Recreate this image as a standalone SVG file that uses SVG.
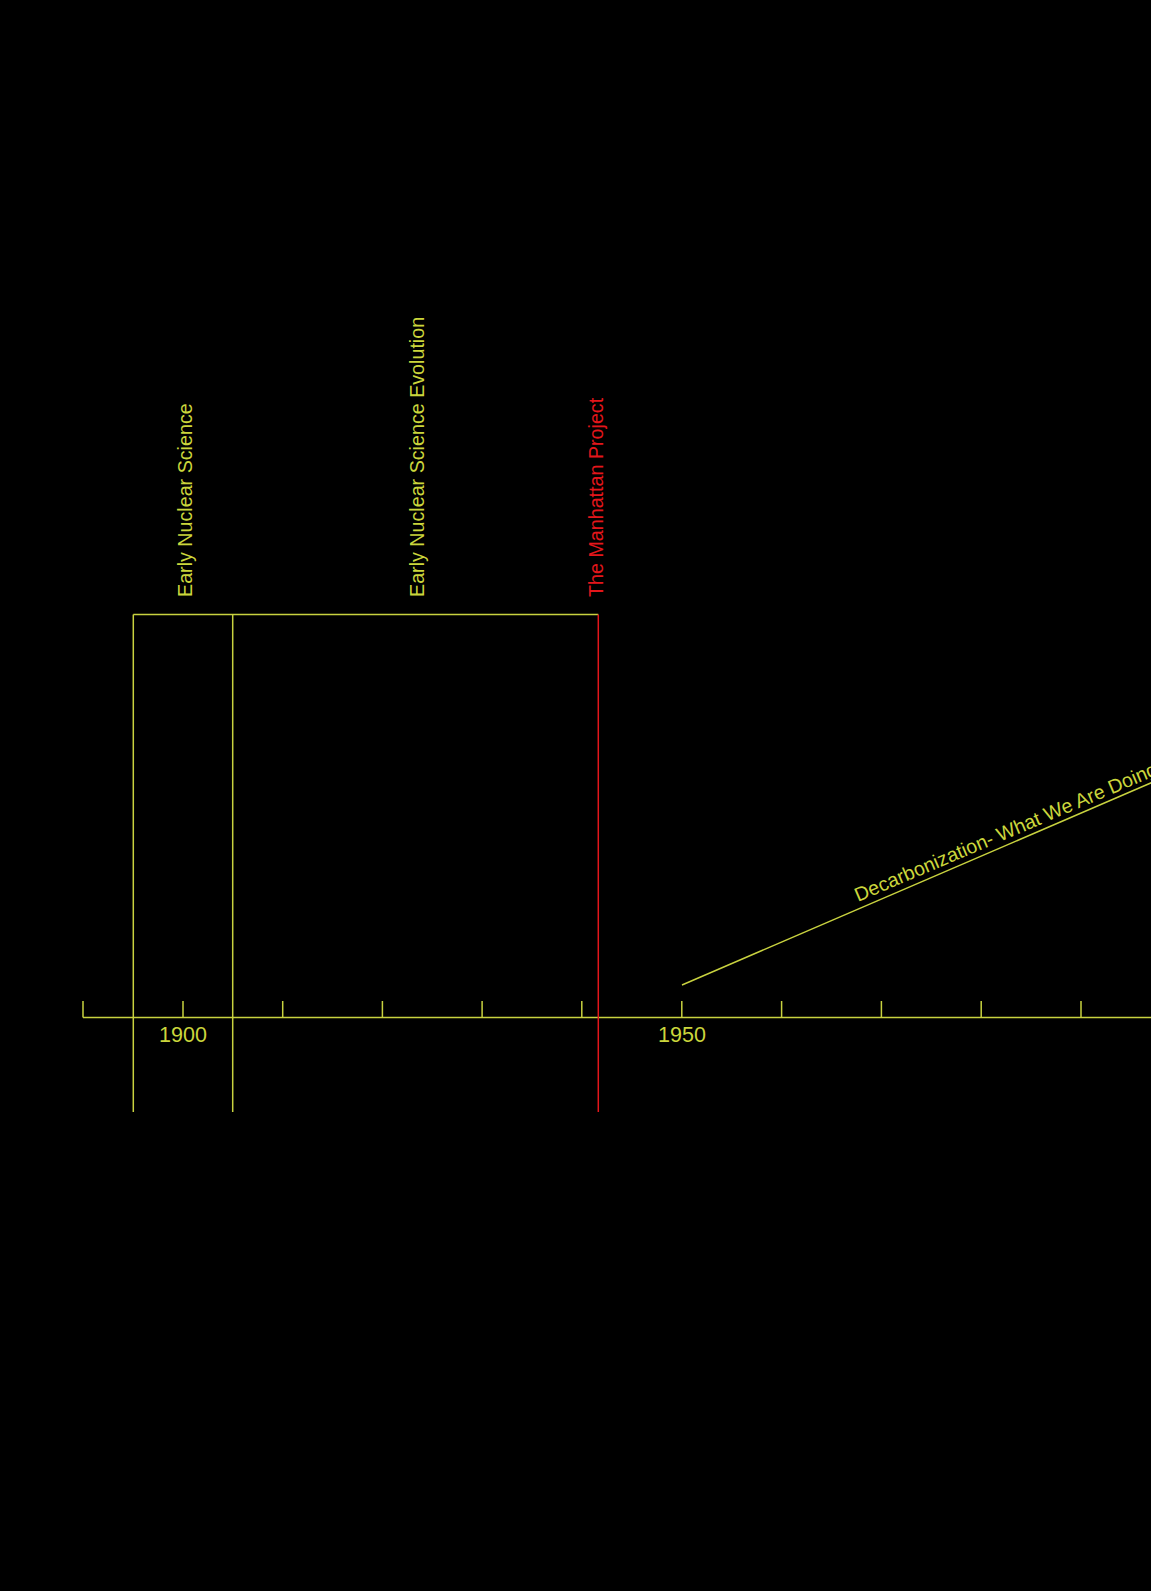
<svg xmlns="http://www.w3.org/2000/svg" width="1151" height="1591" viewBox="0 0 1151 1591">
<style>
.ln{stroke:#c8d23f;stroke-width:1.5;fill:none}
.rd{stroke:#e3161b;stroke-width:1.5;fill:none}
.t{font-family:"Liberation Sans",Arial,sans-serif;font-size:19.7px;fill:#cbd63c}
.tr{font-family:"Liberation Sans",Arial,sans-serif;font-size:19.7px;fill:#e3161b}
.yr{font-family:"Liberation Sans",Arial,sans-serif;font-size:21.5px;fill:#cbd63c;text-anchor:middle}
</style>
<rect width="1151" height="1591" fill="#000"/>
<g id="axis">
<line class="ln" x1="83" y1="1017.5" x2="1151" y2="1017.5"/>
<path class="ln" d="M83,1001V1017.5M183,1001V1017.5M282.7,1001V1017.5M382.4,1001V1017.5M482.1,1001V1017.5M581.8,1001V1017.5M681.8,1001V1017.5M781.6,1001V1017.5M881.4,1001V1017.5M981.2,1001V1017.5M1081,1001V1017.5"/>
<text class="yr" x="183" y="1042">1900</text>
<text class="yr" x="682" y="1042">1950</text>
</g>
<g id="connectors">
<line class="ln" x1="133.3" y1="614.5" x2="598.3" y2="614.5"/>
<line class="ln" x1="682" y1="985" x2="1160" y2="779"/>
</g>
<g id="early-nuclear-science">
<line class="ln" x1="133.3" y1="614.5" x2="133.3" y2="1112"/>
<text class="t" transform="translate(191.5,597) rotate(-90)">Early Nuclear Science</text>
</g>
<g id="early-nuclear-science-evolution">
<line class="ln" x1="232.7" y1="614.5" x2="232.7" y2="1112"/>
<text class="t" transform="translate(423.5,597) rotate(-90)">Early Nuclear Science Evolution</text>
</g>
<g id="manhattan-project">
<line class="rd" x1="598.3" y1="614.5" x2="598.3" y2="1112"/>
<text class="tr" transform="translate(603,597) rotate(-90)">The Manhattan Project</text>
</g>
<g id="decarbonization">
<text class="t" transform="translate(858,902) rotate(-23)">Decarbonization- What We Are Doing</text>
</g>
</svg>
